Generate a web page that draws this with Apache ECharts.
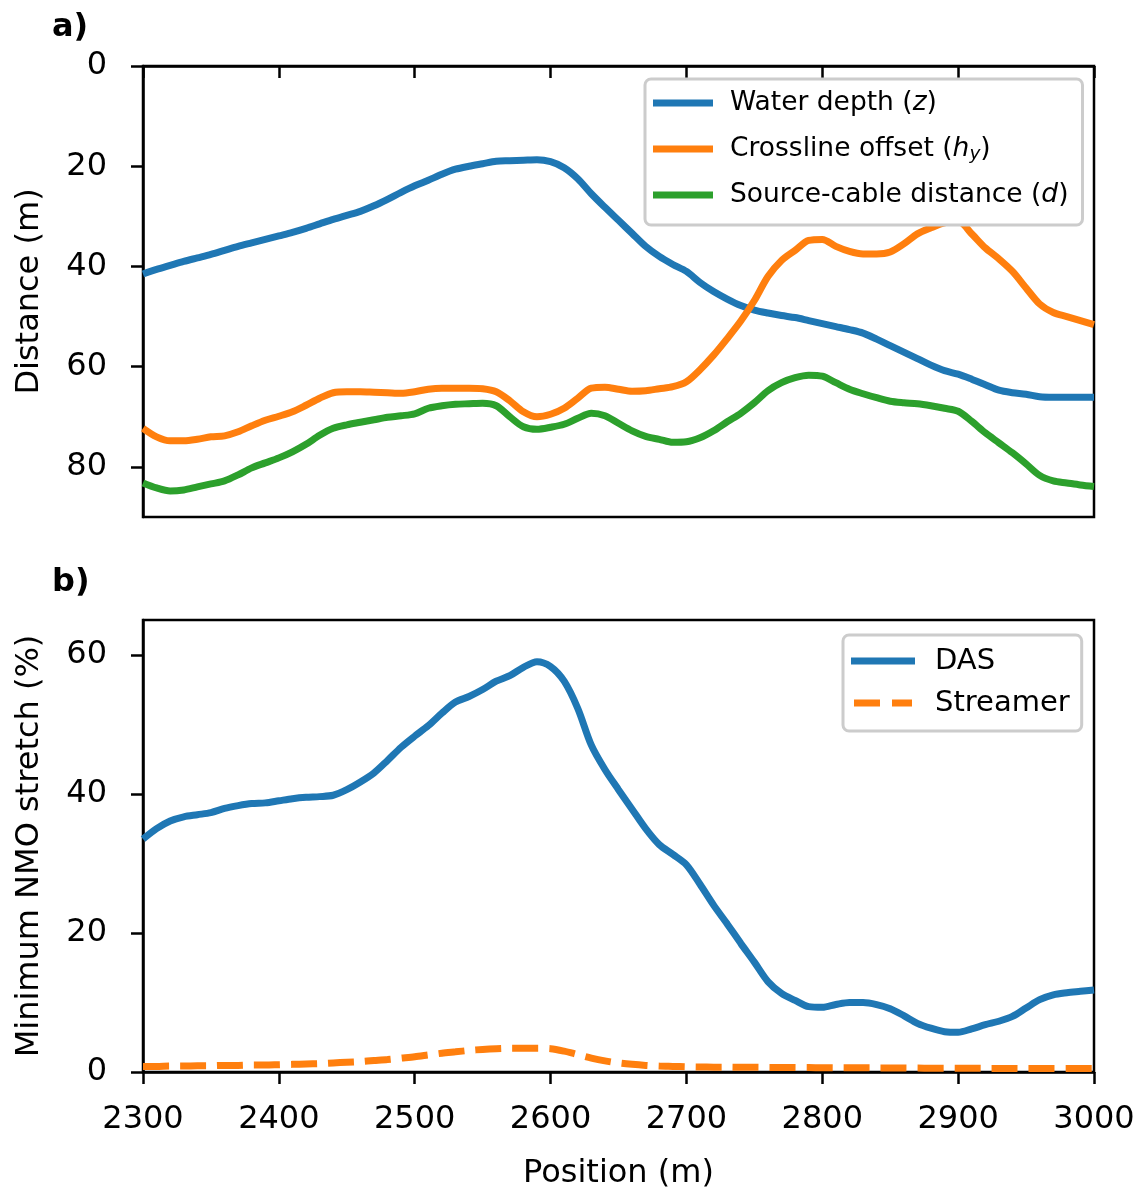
<!DOCTYPE html>
<html>
<head>
<meta charset="utf-8">
<script src="https://cdn.jsdelivr.net/npm/echarts@6/dist/echarts.min.js"></script>
<style>html,body{margin:0;padding:0;background:#fff}#c{width:1143px;height:1193px}</style>
</head>
<body>
<div id="c"></div>
<script>
const positions = [2300,2310,2320,2330,2340,2350,2360,2370,2380,2390,2400,2410,2420,2430,2440,2450,2460,2470,2480,2490,2500,2510,2520,2530,2540,2550,2560,2570,2580,2590,2600,2610,2620,2630,2640,2650,2660,2670,2680,2690,2700,2710,2720,2730,2740,2750,2760,2770,2780,2790,2800,2810,2820,2830,2840,2850,2860,2870,2880,2890,2900,2910,2920,2930,2940,2950,2960,2970,2980,2990,3000];
const waterDepth = [41.5,40.6,39.8,39.0,38.3,37.6,36.8,36.0,35.3,34.6,33.9,33.2,32.4,31.5,30.6,29.8,29.0,27.9,26.6,25.2,23.9,22.8,21.6,20.6,20.0,19.5,19.0,18.9,18.8,18.7,19.1,20.3,22.5,25.5,28.2,30.8,33.4,36.0,38.0,39.6,41.0,43.2,45.0,46.5,47.8,48.7,49.3,49.8,50.2,50.8,51.4,52.0,52.6,53.3,54.5,55.8,57.1,58.4,59.7,60.8,61.5,62.5,63.6,64.7,65.2,65.5,66.0,66.1,66.1,66.1,66.1];
const crosslineOffset = [72.3,74.0,74.8,74.8,74.5,74.0,73.8,73.0,71.8,70.7,69.9,69.0,67.7,66.3,65.2,65.0,65.0,65.1,65.2,65.3,65.0,64.5,64.3,64.3,64.3,64.4,65.0,66.8,69.0,70.0,69.5,68.3,66.3,64.3,64.1,64.5,64.9,64.8,64.4,64.0,63.0,60.6,57.7,54.4,50.9,46.8,42.0,38.8,36.8,34.8,34.6,36.0,37.0,37.5,37.5,37.1,35.5,33.5,32.3,31.3,31.0,33.5,36.3,38.5,41.0,44.3,47.5,49.2,50.0,50.8,51.6];
const sourceCable = [83.2,84.2,84.8,84.6,84.0,83.4,82.8,81.6,80.2,79.2,78.2,77.0,75.5,73.7,72.3,71.6,71.1,70.6,70.1,69.8,69.4,68.3,67.8,67.5,67.4,67.3,67.8,70.0,72.0,72.5,72.1,71.5,70.3,69.3,69.8,71.3,72.8,73.9,74.5,75.1,75.0,74.2,72.8,71.0,69.3,67.2,64.8,63.2,62.2,61.7,61.9,63.2,64.5,65.4,66.2,66.9,67.2,67.4,67.8,68.3,68.9,70.9,73.2,75.2,77.2,79.4,81.7,82.8,83.2,83.6,83.9];
const dasStretch = [33.5,35.0,36.1,36.7,37.0,37.3,37.9,38.3,38.6,38.7,39.0,39.3,39.5,39.6,39.8,40.6,41.7,43.0,44.8,46.7,48.3,49.8,51.6,53.2,54.0,55.0,56.2,57.0,58.2,59.0,58.3,56.2,52.3,47.0,43.5,40.6,37.8,35.0,32.7,31.3,29.8,27.0,24.0,21.3,18.5,15.8,13.0,11.3,10.3,9.4,9.3,9.7,10.0,10.0,9.7,9.1,8.1,7.0,6.3,5.8,5.7,6.2,6.8,7.3,8.0,9.2,10.4,11.1,11.4,11.6,11.8];
const streamerStretch = [0.8,0.8,0.85,0.85,0.9,0.9,0.95,0.95,1.0,1.0,1.05,1.1,1.15,1.2,1.3,1.4,1.5,1.65,1.8,2.0,2.2,2.45,2.7,2.9,3.1,3.25,3.35,3.4,3.4,3.4,3.35,3.0,2.5,2.0,1.6,1.3,1.1,0.95,0.85,0.8,0.75,0.72,0.7,0.7,0.68,0.67,0.66,0.65,0.64,0.63,0.62,0.61,0.6,0.6,0.59,0.58,0.57,0.56,0.55,0.55,0.54,0.53,0.52,0.52,0.51,0.5,0.5,0.5,0.5,0.5,0.5];
const xTicks = [2300,2400,2500,2600,2700,2800,2900,3000];
const yTicksTop = [0,20,40,60,80];
const yTicksBottom = [0,20,40,60];

const FONT = 'DejaVu Sans';
const C_BLUE = '#1f77b4', C_ORANGE = '#ff7f0e', C_GREEN = '#2ca02c';
const LW = 7;

function pairs(ys){ return positions.map((x,i)=>[x, ys[i]]); }

const axisLineStyle = {lineStyle:{color:'#000', width:2.5}};
const tickStyle = {show:true, inside:false, length:12, lineStyle:{color:'#000', width:2.5}};
const labelStyle = {color:'#000', fontSize:32, fontFamily:FONT, formatter:v=>String(v)};

const legendNames = {
  'Water depth': 'Water depth ({i|z})',
  'Crossline offset': 'Crossline offset ({i|h}{sub|y})',
  'Source-cable distance': 'Source-cable distance ({i|d})',
  'DAS': 'DAS',
  'Streamer': 'Streamer'
};
const solidIcon = 'rect';
const dashIcon = 'path://M0,0h26v7h-26z M38,0h20v7h-20z';

const chart = echarts.init(document.getElementById('c'), null, {renderer:'canvas'});
const option = {
  animation:false,
  backgroundColor:'#fff',
  title:[
    {text:'a)', left:47, top:7, textStyle:{fontSize:32, fontWeight:'bold', fontFamily:FONT, color:'#000'}},
    {text:'b)', left:47, top:562, textStyle:{fontSize:32, fontWeight:'bold', fontFamily:FONT, color:'#000'}}
  ],
  grid:[
    {left:143, top:66, width:951, height:451, show:true, borderColor:'#000', borderWidth:2.5, backgroundColor:'transparent'},
    {left:143, top:620, width:951, height:452, show:true, borderColor:'#000', borderWidth:2.5, backgroundColor:'transparent'}
  ],
  xAxis:[
    {type:'value', gridIndex:0, min:2300, max:3000, interval:100,
     axisLine:axisLineStyle, axisTick:tickStyle, axisLabel:{show:false}, splitLine:{show:false}},
    {type:'value', gridIndex:1, min:2300, max:3000, interval:100,
     name:'Position (m)', nameLocation:'middle', nameGap:86,
     nameTextStyle:{fontSize:32, fontFamily:FONT, color:'#000'},
     axisLine:axisLineStyle, axisTick:tickStyle,
     axisLabel:Object.assign({margin:32, customValues:xTicks}, labelStyle), splitLine:{show:false}}
  ],
  yAxis:[
    {type:'value', gridIndex:0, min:0, max:90, inverse:true,
     name:'Distance (m)', nameLocation:'middle', nameGap:97,
     nameTextStyle:{fontSize:32, fontFamily:FONT, color:'#000'},
     axisLine:Object.assign({show:true}, axisLineStyle),
     axisTick:Object.assign({customValues:yTicksTop}, tickStyle),
     axisLabel:Object.assign({margin:36, customValues:yTicksTop}, labelStyle), splitLine:{show:false}},
    {type:'value', gridIndex:1, min:0, max:65,
     name:'Minimum NMO stretch (%)', nameLocation:'middle', nameGap:97,
     nameTextStyle:{fontSize:32, fontFamily:FONT, color:'#000'},
     axisLine:Object.assign({show:true}, axisLineStyle),
     axisTick:Object.assign({customValues:yTicksBottom}, tickStyle),
     axisLabel:Object.assign({margin:36, customValues:yTicksBottom}, labelStyle), splitLine:{show:false}}
  ],
  legend:[
    {data:[{name:'Water depth', icon:solidIcon},{name:'Crossline offset', icon:solidIcon},{name:'Source-cable distance', icon:solidIcon}],
     orient:'vertical',
     left:645, top:79, itemWidth:60, itemHeight:7, itemGap:16,
     padding:[9,14,15,8], backgroundColor:'#fff', borderColor:'#cccccc', borderWidth:3, borderRadius:6,
     formatter:n=>legendNames[n], selectedMode:false,
     textStyle:{fontSize:26.5, fontFamily:FONT, color:'#000', lineHeight:30, padding:[0,0,0,12],
       rich:{i:{fontSize:26.5, fontStyle:'italic', fontFamily:FONT, color:'#000', lineHeight:30},
             sub:{fontSize:18.5, fontStyle:'italic', fontFamily:FONT, color:'#000', lineHeight:18, verticalAlign:'bottom'}}}},
    {data:[{name:'DAS', icon:solidIcon},{name:'Streamer', icon:dashIcon}], orient:'vertical',
     left:843, top:635, itemWidth:64, itemHeight:7, itemGap:12,
     padding:[11,12,13,8], backgroundColor:'#fff', borderColor:'#cccccc', borderWidth:3, borderRadius:6,
     formatter:n=>legendNames[n], selectedMode:false,
     textStyle:{fontSize:29, fontFamily:FONT, color:'#000', lineHeight:30, padding:[0,0,0,15]}}
  ],
  series:[
    {name:'Water depth', type:'line', xAxisIndex:0, yAxisIndex:0, data:pairs(waterDepth), symbol:'none', smooth:0.3,
     lineStyle:{color:C_BLUE, width:LW}, itemStyle:{color:C_BLUE}},
    {name:'Crossline offset', type:'line', xAxisIndex:0, yAxisIndex:0, data:pairs(crosslineOffset), symbol:'none', smooth:0.3,
     lineStyle:{color:C_ORANGE, width:LW}, itemStyle:{color:C_ORANGE}},
    {name:'Source-cable distance', type:'line', xAxisIndex:0, yAxisIndex:0, data:pairs(sourceCable), symbol:'none', smooth:0.3,
     lineStyle:{color:C_GREEN, width:LW}, itemStyle:{color:C_GREEN}},
    {name:'DAS', type:'line', xAxisIndex:1, yAxisIndex:1, data:pairs(dasStretch), symbol:'none', smooth:0.3,
     lineStyle:{color:C_BLUE, width:LW}, itemStyle:{color:C_BLUE}},
    {name:'Streamer', type:'line', xAxisIndex:1, yAxisIndex:1, data:pairs(streamerStretch), symbol:'none', smooth:0.3,
     lineStyle:{color:C_ORANGE, width:LW, type:[26,11]}, itemStyle:{color:C_ORANGE}}
  ]
};
chart.setOption(option);
</script>
</body>
</html>
